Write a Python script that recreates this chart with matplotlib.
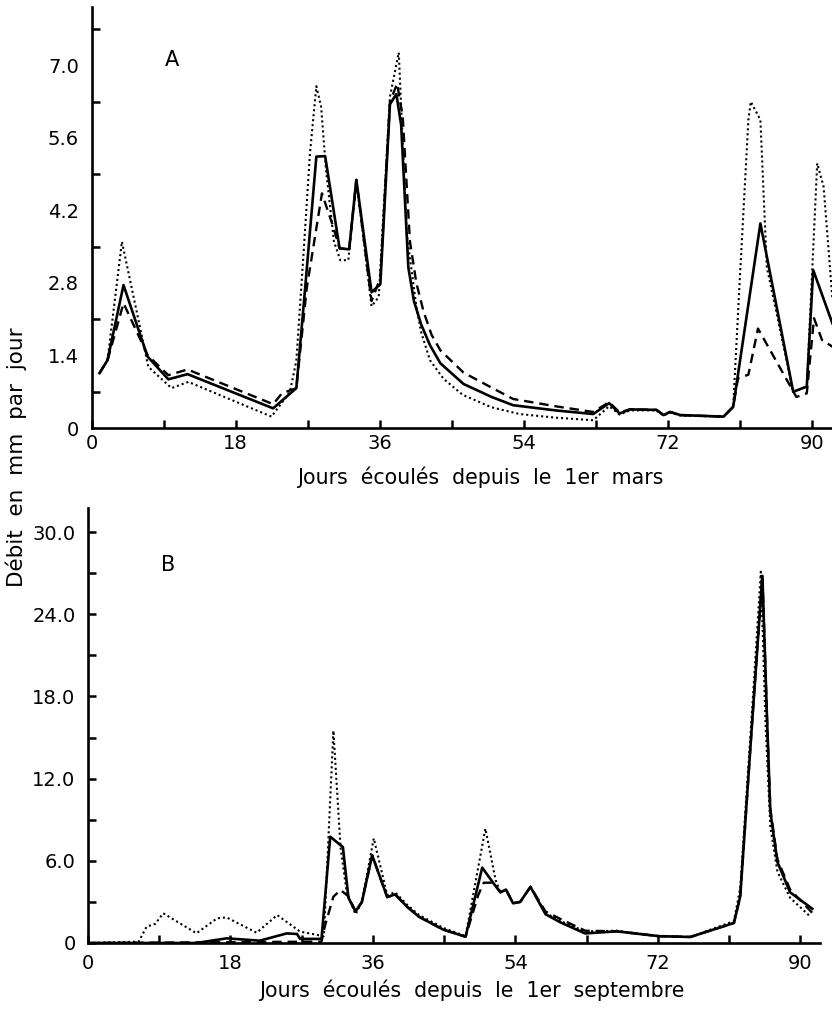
import matplotlib
matplotlib.use("Agg")
import matplotlib.pyplot as plt
from matplotlib.ticker import FixedLocator

# --- Panel A : 1er mars (jours, debit mm/jour) ---
a_solid_days = [1, 2, 4, 7, 9.6, 12, 22.7, 25.6, 26.7, 28.1, 29.2, 31, 32.2, 33.1, 35, 36.1,
                37.3, 38.1, 38.7, 39.6, 40.3, 41.2, 42.3, 43.6, 46.5, 50, 52.7, 58, 62.7,
                64.7, 66, 67.3, 70.6, 71.5, 72.3, 73.6, 79, 80.2, 83.6, 87.7, 89.4, 90.2, 92.6]
a_solid_q = [1.06, 1.31, 2.76, 1.38, 0.94, 1.04, 0.38, 0.77, 2.7, 5.24, 5.25, 3.47, 3.45, 4.79, 2.62, 2.78,
             6.25, 6.45, 5.85, 3.1, 2.45, 2.0, 1.6, 1.25, 0.85, 0.6, 0.44, 0.34, 0.27,
             0.48, 0.28, 0.36, 0.35, 0.25, 0.31, 0.25, 0.22, 0.41, 3.95, 0.70, 0.80, 3.05, 2.02]

a_dash_days = [1, 2, 4, 7, 9.6, 12, 22.7, 23.8, 25.6, 26.9, 28.8, 30.2, 31, 32.2, 33.1, 35, 36.1,
               37.3, 38.2, 38.9, 39.8, 40.6, 41.5, 42.5, 43.6, 46.5, 50, 52.7, 58, 62.7,
               64.7, 66, 67.3, 70.6, 71.5, 72.3, 73.6, 79, 80.2, 80.8, 82.1, 83.3, 88.1, 89.4, 90.3, 91.3, 92.6]
a_dash_q = [1.06, 1.31, 2.41, 1.41, 1.02, 1.13, 0.46, 0.67, 0.77, 2.7, 4.53, 3.89, 3.47, 3.45, 4.79, 2.45, 2.9,
            6.3, 6.65, 6.0, 3.6, 2.8, 2.25, 1.8, 1.5, 1.07, 0.78, 0.56, 0.42, 0.31,
            0.5, 0.3, 0.36, 0.35, 0.25, 0.31, 0.25, 0.22, 0.41, 0.96, 1.03, 1.92, 0.60, 0.67, 2.12, 1.70, 1.57]

a_dot_days = [1, 2, 3.8, 7.1, 10, 12.1, 22.5, 24.8, 25.6, 26.5, 27.3, 28.1, 28.7, 29.3, 30.3, 31.1, 32.1,
              33.1, 35, 35.9, 37.3, 38.4, 39.4, 40.6, 41.2, 42.3, 44, 46.4, 50, 53.5, 58, 62.7,
              64.7, 66, 67.3, 70.6, 71.5, 72.3, 73.6, 79, 80.2, 81, 82.1, 82.4, 83.6, 84.4, 87.7, 89.4,
              90.7, 91.5, 92.6]
a_dot_q = [1.06, 1.31, 3.6, 1.18, 0.77, 0.89, 0.22, 0.7, 1.3, 3.37, 5.3, 6.6, 6.2, 5.0, 3.6, 3.24, 3.24,
           4.79, 2.35, 2.53, 6.4, 7.25, 3.76, 2.34, 1.85, 1.31, 0.95, 0.64, 0.4, 0.27, 0.2, 0.15,
           0.42, 0.26, 0.34, 0.34, 0.24, 0.3, 0.24, 0.22, 0.41, 2.8, 5.95, 6.3, 5.95, 3.11, 0.70, 0.80,
           5.11, 4.66, 2.5]

# --- Panel B : 1er septembre ---
b_solid_days = [0, 13.7, 17.5, 21.7, 25.1, 26.4, 26.8, 29.5, 30.6, 32.2, 32.9, 33.8, 34.6, 35.9, 37.8,
                38.8, 40.3, 41.8, 44.9, 47.7, 49.8, 51.2, 52.1, 52.8, 53.7, 54.6, 55.9, 57.8, 59.7,
                62.8, 66.8, 72.1, 76.1, 81.6, 82.4, 83.9, 85.2, 85.8, 86.2, 87.1, 88.7, 91.5]
b_solid_q = [0, 0, 0.34, 0.17, 0.7, 0.66, 0.3, 0.3, 7.76, 7.0, 3.3, 2.3, 3.0, 6.4, 3.35,
             3.55, 2.65, 1.92, 0.97, 0.46, 5.5, 4.38, 3.7, 3.9, 2.9, 3.0, 4.1, 2.1, 1.5,
             0.7, 0.85, 0.5, 0.44, 1.46, 3.4, 16.1, 26.8, 16.1, 9.6, 5.9, 3.7, 2.5]

b_dash_days = [0, 29.5, 29.9, 31, 31.9, 32.9, 33.8, 34.6, 35.9, 37.8, 38.8, 40.3, 41.8, 44.9, 47.7,
               49.3, 50, 51.2, 52.1, 52.8, 53.7, 54.6, 55.9, 57.8, 59.7, 62.8, 66.8, 72.1, 76.1,
               81.6, 82.4, 83.9, 85.2, 85.8, 86.2, 87.1, 88.7, 91.5]
b_dash_q = [0, 0.1, 1.19, 3.38, 3.87, 3.4, 2.3, 3.0, 6.4, 3.35, 3.55, 2.65, 1.92, 0.97, 0.46,
            3.5, 4.4, 4.4, 3.7, 3.9, 2.9, 3.0, 4.1, 2.3, 1.75, 0.9, 0.85, 0.5, 0.44,
            1.46, 3.4, 16.1, 26.8, 16.1, 9.8, 6.1, 3.9, 2.2]

b_dot_days = [0, 6.4, 7.4, 8.5, 9.5, 13.7, 16.3, 17.5, 21.3, 23.9, 26.8, 29.8, 31.0, 31.9, 32.7, 33.8,
              34.6, 36.1, 37.8, 38.8, 40.3, 41.8, 44.9, 47.7, 50.2, 51.5, 52.1, 52.8, 53.7, 54.6,
              55.9, 57.8, 59.7, 62.8, 66.8, 72.1, 76.1, 81.6, 82.4, 83.9, 85.0, 85.6, 86.2, 87.1,
              88.7, 91.3]
b_dot_q = [0, 0.1, 1.19, 1.4, 2.17, 0.71, 1.8, 1.87, 0.75, 2.04, 0.83, 0.5, 15.5, 7.0, 3.63, 2.1,
           3.0, 7.64, 3.5, 3.7, 2.8, 2.05, 1.1, 0.5, 8.35, 4.58, 3.7, 3.9, 2.9, 3.0,
           4.1, 2.2, 1.6, 0.85, 0.9, 0.5, 0.44, 1.6, 4.0, 17.0, 27.1, 16.0, 8.5, 5.2,
           3.3, 1.9]

a_yticks = [0, 1.4, 2.8, 4.2, 5.6, 7.0]
a_ylabels = ["0", "1.4", "2.8", "4.2", "5.6", "7.0"]
b_yticks = [0, 6, 12, 18, 24, 30]
b_ylabels = ["0", "6.0", "12.0", "18.0", "24.0", "30.0"]
xticks = [0, 18, 36, 54, 72, 90]

LW_AX = 1.9


def style_axis(ax, xlim, ylim, yticks, ylabels, yminor, ymajor_len, xpad):
    ax.set_xlim(*xlim)
    ax.set_ylim(*ylim)
    for s in ["top", "right"]:
        ax.spines[s].set_visible(False)
    for s in ["left", "bottom"]:
        ax.spines[s].set_linewidth(LW_AX)
    ax.set_xticks(xticks)
    ax.set_xticklabels([str(t) for t in xticks])
    ax.xaxis.set_minor_locator(FixedLocator([9, 27, 45, 63, 81]))
    ax.set_yticks(yticks)
    ax.set_yticklabels(ylabels)
    ax.yaxis.set_minor_locator(FixedLocator(yminor))
    ax.tick_params(axis="x", which="both", direction="in", length=6, width=1.8, pad=xpad)
    ax.tick_params(axis="y", which="major", direction="in", length=ymajor_len, width=1.8, pad=9)
    ax.tick_params(axis="y", which="minor", direction="in", length=6, width=1.8)
    for lab in ax.get_xticklabels() + ax.get_yticklabels():
        lab.set_fontsize(14)


fig = plt.figure(figsize=(8.32, 10.22), dpi=100)

axA = fig.add_axes([0.110, 0.5812, 0.890, 0.412])
axA.plot(a_dot_days, a_dot_q, color="black", lw=1.5, linestyle=(0, (1, 1.4)))
axA.plot(a_dash_days, a_dash_q, color="black", lw=1.7, linestyle=(0, (4, 2.5)))
axA.plot(a_solid_days, a_solid_q, color="black", lw=1.9)
style_axis(axA, (0, 92.55), (0, 8.13), a_yticks, a_ylabels,
           [0.7, 2.1, 3.5, 4.9, 6.3, 7.7], 0, 4)
axA.text(10, 7.1, "A", fontsize=15, ha="center", va="center")

axB = fig.add_axes([0.1058, 0.0773, 0.880, 0.4256])
axB.plot(b_dot_days, b_dot_q, color="black", lw=1.5, linestyle=(0, (1, 1.4)))
axB.plot(b_dash_days, b_dash_q, color="black", lw=1.7, linestyle=(0, (4, 2.5)))
axB.plot(b_solid_days, b_solid_q, color="black", lw=1.9)
style_axis(axB, (0, 92.5), (0, 31.75), b_yticks, b_ylabels,
           [3, 9, 15, 21, 27], 6, 8)
axB.text(10.1, 27.6, "B", fontsize=15, ha="center", va="center")

fig.text(480 / 832, 1 - 477 / 1022, "Jours  écoulés  depuis  le  1er  mars",
         fontsize=14.8, ha="center", va="center")
fig.text(472 / 832, 1 - 990 / 1022, "Jours  écoulés  depuis  le  1er  septembre",
         fontsize=14.8, ha="center", va="center")
fig.text(16 / 832, 1 - 457 / 1022, "Débit  en  mm  par  jour", fontsize=15.5,
         rotation=90, ha="center", va="center")

fig.savefig("out.png", dpi=100)
